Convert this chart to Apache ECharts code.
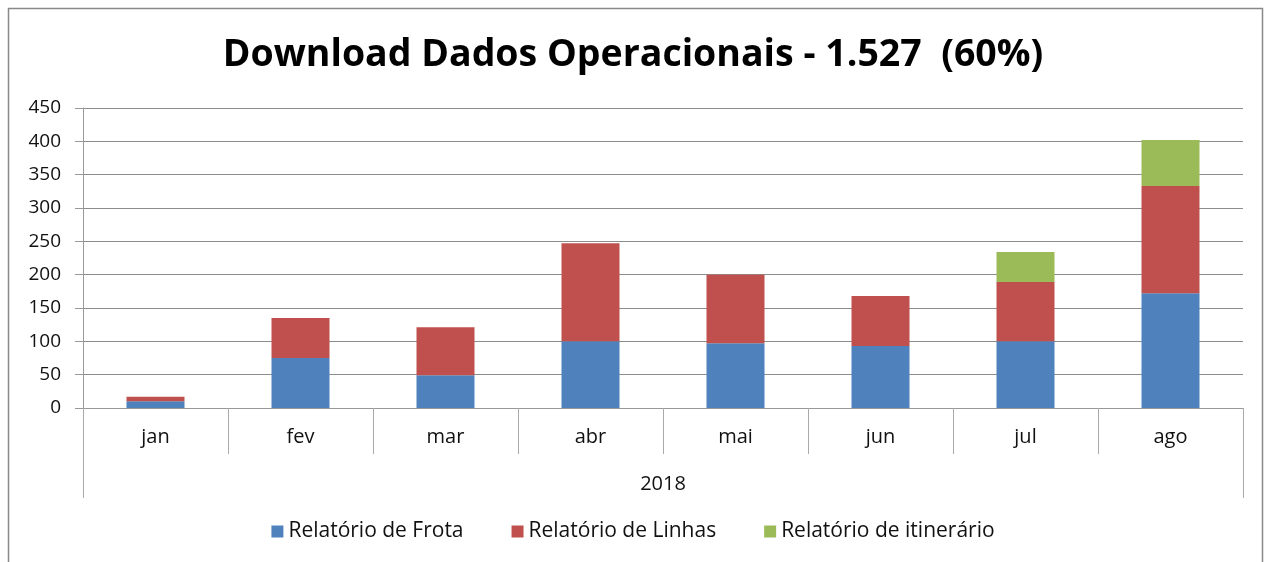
<!DOCTYPE html>
<html lang="pt-BR" style="height: 100%">
  <head>
    <meta charset="utf-8" />
    <title>Download Dados Operacionais</title>
  </head>
  <body style="height: 100%; margin: 0; background: #fff">
    <div id="container" style="width: 1266px; height: 562px"></div>

    <script
      type="text/javascript"
      src="https://fastly.jsdelivr.net/npm/echarts@6/dist/echarts.min.js"
    ></script>

    <script type="text/javascript">
      var months = ["jan", "fev", "mar", "abr", "mai", "jun", "jul", "ago"];
      var frota = [10, 75, 49, 100, 97, 93, 100, 172];
      var linhas = [7, 60, 72, 147, 103, 75, 89, 161];
      var itinerario = [0, 0, 0, 0, 0, 0, 45, 69];
      var yearLabel = ["2018"];

      var FONT = "Open Sans";
      var dom = document.getElementById("container");
      var myChart = echarts.init(dom, null, { renderer: "canvas" });

      var option = {
        animation: false,
        textStyle: { fontFamily: FONT },
        title: {
          text: "Download Dados Operacionais - 1.527  (60%)",
          left: "center",
          top: 31,
          textStyle: {
            fontFamily: FONT,
            fontSize: 37.5,
            fontWeight: "bold",
            color: "#000",
          },
        },
        legend: {
          bottom: 15,
          left: "center",
          itemWidth: 12,
          itemHeight: 12,
          itemGap: 48,
          icon: "rect",
          textStyle: { fontSize: 21, color: "#111", fontFamily: FONT },
          data: ["Relatório de Frota", "Relatório de Linhas", "Relatório de itinerário"],
        },
        grid: { left: 83, right: 23, top: 108, bottom: 154, containLabel: false },
        xAxis: [
          {
            type: "category",
            data: months,
            position: "bottom",
            axisLine: { lineStyle: { color: "#999", width: 1 } },
            axisTick: {
              show: true,
              length: 46,
              interval: 0,
              lineStyle: { color: "#aaa" },
            },
            axisLabel: { margin: 19, fontSize: 20, color: "#111" },
          },
          {
            type: "category",
            data: yearLabel,
            position: "bottom",
            axisLine: { show: false },
            axisTick: { show: true, length: 90, lineStyle: { color: "#aaa" } },
            axisLabel: { margin: 66, fontSize: 20, color: "#111" },
          },
        ],
        yAxis: {
          type: "value",
          min: 0,
          max: 450,
          interval: 50,
          axisLine: { show: true, lineStyle: { color: "#999" } },
          axisTick: { show: true, inside: false, length: 8, lineStyle: { color: "#999" } },
          axisLabel: { margin: 22, fontSize: 19, color: "#111" },
          splitLine: { lineStyle: { color: "#8c8c8c", width: 1 } },
        },
        graphic: [
          {
            type: "rect",
            shape: { x: 8.5, y: 8.5, width: 1254, height: 600 },
            style: { fill: "none", stroke: "#888", lineWidth: 1.5 },
            silent: true,
          },
        ],
        series: [
          {
            name: "Relatório de Frota",
            type: "bar",
            stack: "total",
            barWidth: 58,
            data: frota,
            itemStyle: { color: "#4F81BD" },
          },
          {
            name: "Relatório de Linhas",
            type: "bar",
            stack: "total",
            barWidth: 58,
            data: linhas,
            itemStyle: { color: "#C0504D" },
          },
          {
            name: "Relatório de itinerário",
            type: "bar",
            stack: "total",
            barWidth: 58,
            data: itinerario,
            itemStyle: { color: "#9BBB59" },
          },
        ],
      };

      myChart.setOption(option);
      window.addEventListener("resize", myChart.resize);
    </script>
  </body>
</html>
